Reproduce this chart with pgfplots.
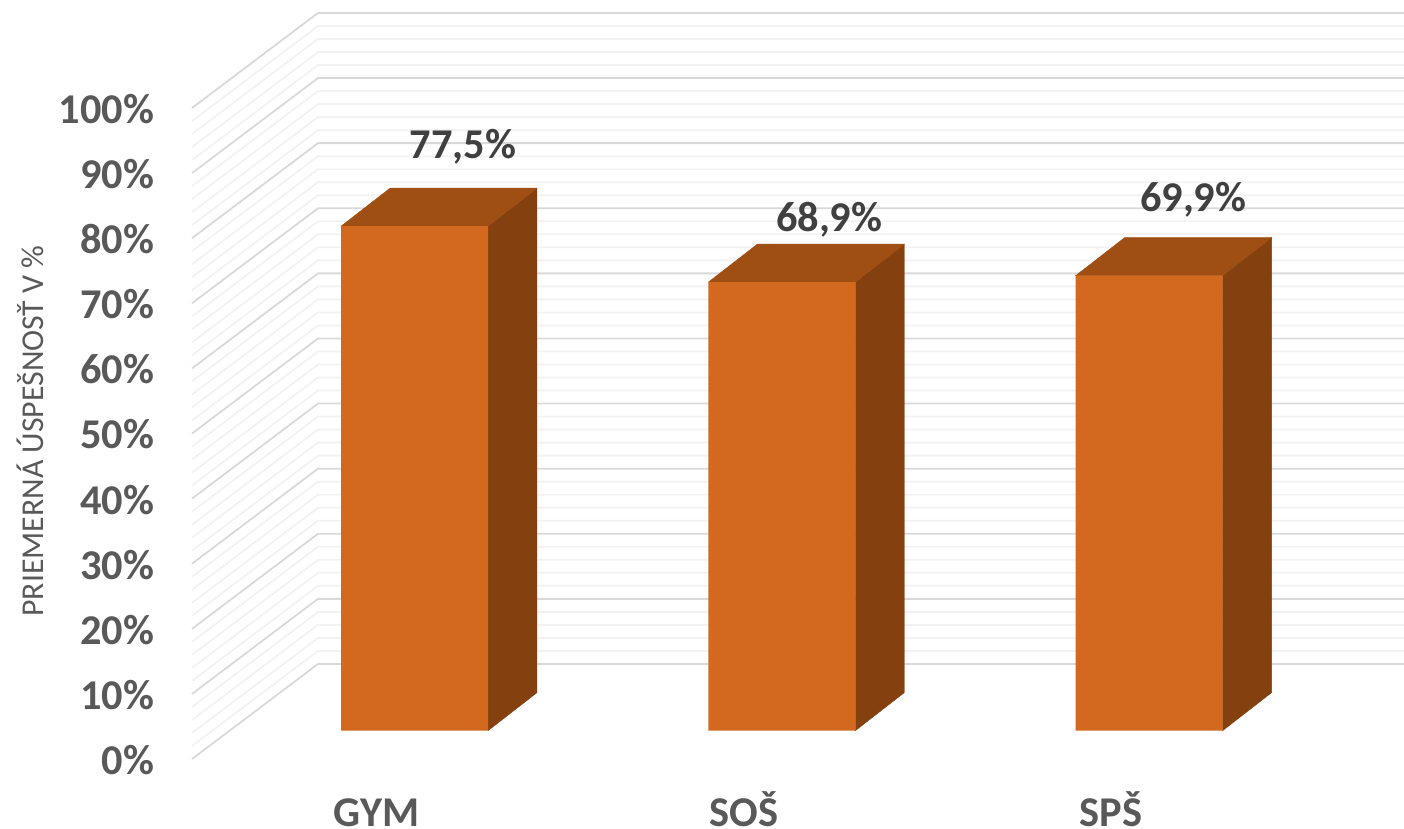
\documentclass[border=0pt]{standalone}
\usepackage{pgfplots}
\usepackage{pgfplotstable}
\pgfplotsset{compat=1.18}
\usepackage{fontspec}
\setmainfont{Carlito}
\definecolor{barfront}{HTML}{D2691E}
\definecolor{bartop}{HTML}{A04F14}
\definecolor{barside}{HTML}{84410F}
\definecolor{gridmajor}{HTML}{D9D9D9}
\definecolor{gridminor}{HTML}{F2F2F2}
\definecolor{axtext}{HTML}{595959}
\definecolor{dltext}{HTML}{404040}
\pgfplotstableread{
x y
-0.6058 -4.35
-0.2628 10.25
2.694 10.25
}\wallshape
\begin{document}
\begin{tikzpicture}
\path[use as bounding box] (-80pt,-19.5pt) rectangle (622pt,395pt);
\begin{axis}[
  at={(0pt,0pt)}, anchor=south west,
  scale only axis, width=622pt, height=395pt,
  xmin=-0.693, xmax=2.694, ymin=-9.109, ymax=112.24,
  clip=false,
  axis line style={draw=none},
  major tick length=0pt,
  xtick={0,1,2},
  xticklabels={GYM,SOŠ,SPŠ},
  ytick={-4.35,5.65,15.65,25.65,35.65,45.65,55.65,65.65,75.65,85.65,95.65},
  yticklabels={0\%,10\%,20\%,30\%,40\%,50\%,60\%,70\%,80\%,90\%,100\%},
  tick label style={font=\fontsize{21.2}{24}\selectfont\bfseries, text=axtext},
  yticklabel style={anchor=east, xshift=0.5pt, yshift=-0.5pt},
  xticklabel style={anchor=base, inner sep=0pt, xshift=-19pt, yshift=-18.5pt},
]
\pgfplotsinvokeforeach{2,4,6,8,12,14,16,18,22,24,26,28,32,34,36,38,42,44,46,48,52,54,56,58,62,64,66,68,72,74,76,78,82,84,86,88,92,94,96,98}{
  \addplot[gridminor, line width=0.9pt, forget plot] table[x=x, y expr=\thisrow{y}+#1] {\wallshape};
}
\pgfplotsinvokeforeach{0,10,20,30,40,50,60,70,80,90,100}{
  \addplot[gridmajor, line width=0.9pt, forget plot] table[x=x, y expr=\thisrow{y}+#1] {\wallshape};
}
% GYM 77.5
\addplot[fill=barside, draw=barside, line width=0.2pt] coordinates {(0.2,0)(0.3334,5.84)(0.3334,83.34)(0.2,77.5)} -- cycle;
\addplot[fill=bartop, draw=bartop, line width=0.2pt] coordinates {(-0.2,77.5)(0.2,77.5)(0.3334,83.34)(-0.0666,83.34)} -- cycle;
% SOS 68.9
\addplot[fill=barside, draw=barside, line width=0.2pt] coordinates {(1.2,0)(1.3334,5.84)(1.3334,74.74)(1.2,68.9)} -- cycle;
\addplot[fill=bartop, draw=bartop, line width=0.2pt] coordinates {(0.8,68.9)(1.2,68.9)(1.3334,74.74)(0.9334,74.74)} -- cycle;
% SPS 69.9
\addplot[fill=barside, draw=barside, line width=0.2pt] coordinates {(2.2,0)(2.3334,5.84)(2.3334,75.74)(2.2,69.9)} -- cycle;
\addplot[fill=bartop, draw=bartop, line width=0.2pt] coordinates {(1.8,69.9)(2.2,69.9)(2.3334,75.74)(1.9334,75.74)} -- cycle;
% front faces
\addplot[ybar, bar width=73.5pt, bar shift=0pt, fill=barfront, draw=none] coordinates {(0,77.5)(1,68.9)(2,69.9)};
\node[text=dltext, font=\fontsize{21.2}{24}\selectfont\bfseries] at (axis cs:0.132,89.7) {77,5\%};
\node[text=dltext, font=\fontsize{21.2}{24}\selectfont\bfseries] at (axis cs:1.129,78.5) {68,9\%};
\node[text=dltext, font=\fontsize{21.2}{24}\selectfont\bfseries] at (axis cs:2.12,81.6) {69,9\%};
\end{axis}
\node[rotate=90, text=axtext, font=\fontsize{15.9}{18}\selectfont] at (-65pt,179.5pt) {PRIEMERNÁ ÚSPEŠNOSŤ V \%};
\end{tikzpicture}
\end{document}
